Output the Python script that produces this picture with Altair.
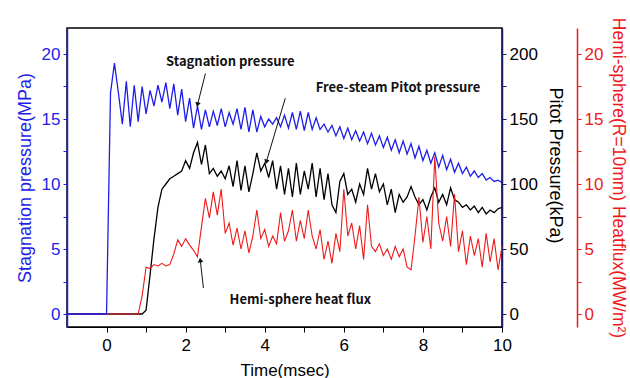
import altair as alt
import numpy as np
import pandas as pd

# time grid (msec)
time_ms = np.round(np.arange(-1.0, 10.0001, 0.1), 1)

# Stagnation pressure (MPa)
stag_mpa = [0, 0, 0, 0, 0, 0, 0, 0, 0, 0, 0,
            17.0, 19.3, 17.0, 14.6, 17.9, 14.4, 17.6, 14.8, 17.5, 15.4,
            17.2, 16.0, 17.6, 16.3, 17.8, 15.8, 17.7, 15.3, 17.3, 14.8,
            16.6, 14.3, 16.0, 14.2, 15.7, 14.4, 15.6, 14.5, 15.8, 14.4,
            15.5, 14.6, 15.8, 14.2, 15.9, 14.0, 15.7, 14.0, 15.2, 14.4,
            15.0, 14.6, 15.1, 14.4, 15.3, 14.3, 15.5, 14.2, 15.6, 14.1,
            15.5, 14.2, 15.1, 14.2, 14.6, 14.0, 14.5, 13.7, 14.4, 13.5,
            14.3, 13.4, 14.1, 13.3, 14.0, 13.1, 13.9, 13.0, 13.7, 12.8,
            13.6, 12.6, 13.4, 12.4, 13.3, 12.3, 13.1, 12.0, 12.9, 11.8,
            12.6, 11.6, 12.4, 11.3, 12.2, 11.1, 11.9, 10.9, 11.6, 10.8,
            11.3, 10.6, 11.0, 10.5, 10.8, 10.3, 10.5, 10.2, 10.3, 10.1]

# Free-stream Pitot pressure (kPa)
pitot_kpa = [0, 0, 0, 0, 0, 0, 0, 0, 0, 0,
             0, 0, 0, 0, 0, 0, 0, 0, 0, 0,
             3, 30, 58, 82, 96, 100, 104, 106, 108, 110,
             118, 112, 124, 132, 115, 130, 108, 112, 106, 110,
             104, 114, 98, 118, 95, 114, 94, 108, 124, 110,
             116, 105, 118, 96, 114, 92, 112, 90, 116, 92,
             110, 96, 116, 90, 112, 88, 108, 84, 78, 102,
             108, 92, 96, 86, 100, 92, 112, 96, 108, 94,
             100, 84, 96, 78, 92, 86, 90, 98, 90, 84,
             88, 80, 90, 97, 86, 92, 84, 97, 88, 86,
             82, 84, 80, 83, 78, 82, 77, 80, 78, 81, 82]

# Hemi-sphere heat flux (MW/m2)
heat_mw = [0, 0, 0, 0, 0, 0, 0, 0, 0, 0,
           0, 0, 0, 0, 0, 0, 0, 0, 0,
           1.4, 3.6, 3.5, 3.8, 3.7, 3.9, 3.7, 3.8, 4.6, 5.7,
           5.2, 5.8, 5.3, 4.9, 4.4, 6.7, 8.9, 7.4, 9.4, 7.6,
           9.6, 6.2, 7.0, 5.3, 6.6, 5.0, 6.4, 4.7, 6.0, 8.0,
           5.8, 6.5, 5.2, 6.0, 5.4, 7.8, 5.6, 6.4, 8.0, 5.6,
           7.2, 5.8, 8.0, 6.0, 5.0, 6.5, 4.2, 5.6, 3.9, 6.2,
           4.8, 9.6, 6.0, 7.0, 5.0, 6.8, 4.2, 8.4, 5.2, 4.8,
           5.4, 4.5, 5.0, 4.2, 5.2, 4.4, 5.0, 3.6, 3.4, 6.0,
           9.0, 5.5, 7.5, 5.0, 12.1, 7.0, 5.6, 7.5, 5.2, 9.2,
           4.8, 6.4, 3.8, 6.0, 4.5, 5.8, 3.6, 6.2, 4.0, 5.8,
           3.4, 5.2]

df = pd.DataFrame({"t": time_ms, "stag": stag_mpa, "pitot": pitot_kpa, "heat": heat_mw})

# annotations (time, value on the stagnation-pressure scale)
label_text = ["Stagnation pressure", "Free-steam Pitot pressure", "Hemi-sphere heat flux"]
label_t = [3.13, 7.37, 4.9]
label_v = [19.4, 17.4, 1.1]
arrow_tail_t = [2.5, 4.52, 2.45]
arrow_tail_v = [18.5, 16.6, 2.0]
arrow_tip_t = [2.3, 4.04, 2.37]
arrow_tip_v = [16.1, 11.7, 4.15]

lab_df = pd.DataFrame({"t": label_t, "v": label_v, "txt": label_text})
arr_df = pd.DataFrame({"t": arrow_tail_t, "v": arrow_tail_v, "t2": arrow_tip_t, "v2": arrow_tip_v})

W, H = 435, 299
x_dom = [-1, 10]
y_dom = [-1, 22]
p_dom = [-10, 220]
px_per_t = W / (x_dom[1] - x_dom[0])
px_per_v = H / (y_dom[1] - y_dom[0])
dx = (arr_df["t2"] - arr_df["t"]) * px_per_t
dy = (arr_df["v2"] - arr_df["v"]) * px_per_v
arr_df["ang"] = (np.degrees(np.arctan2(dx, dy)) + 360) % 360

BLUE = "#1e1ee8"
RED = "#ee1a1a"
FONT = "Liberation Sans"
AFONT = "Noto Sans CJK JP"

x_enc = alt.X("t:Q", scale=alt.Scale(domain=x_dom, nice=False),
              axis=alt.Axis(values=list(range(0, 11)),
                            labelExpr="datum.value % 2 == 0 ? datum.label : ''",
                            title="Time(msec)", grid=False, domainColor="black",
                            tickColor="black", tickSize=5, labelFontSize=17,
                            labelColor="black", titleFontSize=17, titleFontWeight="normal",
                            labelFont=FONT, titleFont=FONT, labelPadding=5,
                            titlePadding=9, labelFlush=False))

ys = alt.Scale(domain=y_dom, nice=False, zero=False)
blue_axis = alt.Axis(orient="left", values=[0, 2.5, 5, 7.5, 10, 12.5, 15, 17.5, 20],
                     labelExpr="datum.value % 5 == 0 ? datum.label : ''",
                     title="Stagnation pressure(MPa)", grid=False, domainColor=BLUE,
                     domainWidth=1.5, tickColor=BLUE, tickSize=4, labelColor=BLUE,
                     titleColor=BLUE, labelFontSize=17, titleFontSize=18,
                     titleFontWeight="normal", labelFont=FONT, titleFont=FONT,
                     labelPadding=3, titlePadding=7)

blue_line = alt.Chart(df).mark_line(color=BLUE, strokeWidth=1.3).encode(
    x=x_enc, y=alt.Y("stag:Q", scale=ys, axis=blue_axis))

texts = alt.Chart(lab_df).mark_text(font=AFONT, fontSize=13, color="#111",
                                     fontWeight="bold").encode(
    x="t:Q", y=alt.Y("v:Q", scale=ys, axis=blue_axis), text="txt:N")

arrows = alt.Chart(arr_df).mark_rule(color="#111", strokeWidth=1).encode(
    x="t:Q", y=alt.Y("v:Q", scale=ys, axis=blue_axis), x2="t2:Q", y2="v2:Q")

heads = alt.Chart(arr_df).mark_point(shape="triangle-up", filled=True, color="#111",
                                      size=30, opacity=1).encode(
    x="t2:Q", y=alt.Y("v2:Q", scale=ys, axis=blue_axis),
    angle=alt.Angle("ang:Q", scale=None))

blue_group = alt.layer(blue_line, arrows, heads, texts)

pitot_axis = alt.Axis(orient="right", values=[0, 25, 50, 75, 100, 125, 150, 175, 200],
                      labelExpr="datum.value % 50 == 0 ? datum.label : ''",
                      title="Pitot Pressure(kPa)", titleAngle=90, titleY=137, grid=False,
                      domainColor="#1b1b66", domainWidth=1.5, tickColor="#1b1b66",
                      tickSize=4, labelColor="black", titleColor="black",
                      labelFontSize=17, titleFontSize=18, titleFontWeight="normal",
                      labelFont=FONT, titleFont=FONT, labelPadding=3, titlePadding=8)

black_line = alt.Chart(df).mark_line(color="black", strokeWidth=1.3).encode(
    x=x_enc, y=alt.Y("pitot:Q", scale=alt.Scale(domain=p_dom, nice=False, zero=False),
                     axis=pitot_axis))

red_axis = alt.Axis(orient="right", offset=75, values=[0, 2.5, 5, 7.5, 10, 12.5, 15, 17.5, 20],
                    labelExpr="datum.value % 5 == 0 ? datum.label : ''",
                    title="Hemi-sphere(R=10mm) Heatflux(MW/m²)", titleAngle=90, grid=False,
                    domainColor=RED, domainWidth=1.5, tickColor=RED, tickSize=4,
                    labelColor=RED, titleColor=RED, labelFontSize=17, titleFontSize=17.5,
                    titleFontWeight="normal", labelFont=FONT, titleFont=FONT,
                    labelPadding=3, titlePadding=6)

red_line = alt.Chart(df).mark_line(color=RED, strokeWidth=1.1).encode(
    x=x_enc, y=alt.Y("heat:Q", scale=ys, axis=red_axis))

chart = alt.layer(black_line, red_line, blue_group).resolve_scale(
    y="independent"
).properties(
    width=W, height=H,
    autosize=alt.AutoSizeParams(type="none"),
    padding={"left": 67, "top": 28, "right": 128, "bottom": 51},
    background="white",
).configure_view(stroke="black", strokeWidth=1.5)

chart.save("out.html", embed_options={"renderer": "svg", "actions": False})
